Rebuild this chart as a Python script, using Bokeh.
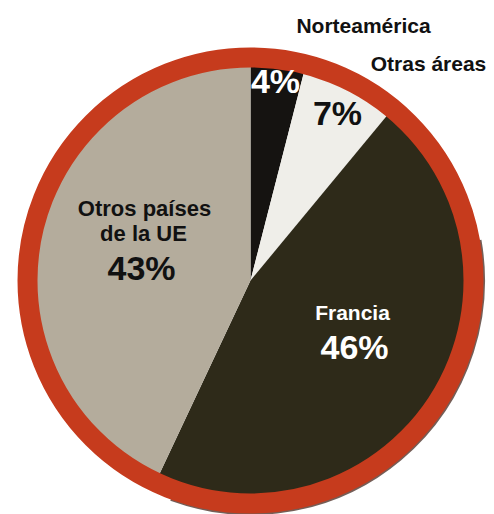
import math
from bokeh.plotting import figure
from bokeh.models import Range1d, ColumnDataSource
from bokeh.core.properties import value
from bokeh.embed import file_html
from bokeh.resources import INLINE

# Data
categories = ["Norteamérica", "Otras áreas", "Francia", "Otros países de la UE"]
shares = [4, 7, 46, 43]
colors = ["#151311", "#efeee9", "#2e2a19", "#b4ac9c"]

W, H = 494, 514
p = figure(width=W, height=H, output_backend="svg", toolbar_location=None,
           x_range=Range1d(0, W), y_range=Range1d(0, H),
           min_border=0)
p.axis.visible = False
p.grid.visible = False
p.outline_line_color = None
p.background_fill_color = "white"
p.border_fill_color = "white"

def X(x):
    return x
def Y(y):
    return H - y

cx, cy = X(250), Y(280)
R = 223

total = sum(shares)
starts, ends = [], []
acc = 0.0
for s in shares:
    a0 = math.radians(90 - 360 * acc / total)
    acc += s
    a1 = math.radians(90 - 360 * acc / total)
    starts.append(a0)
    ends.append(a1)

src = ColumnDataSource(dict(cat=categories, share=shares, color=colors,
                            start=starts, end=ends))
p.wedge(x=cx, y=cy, radius=R, start_angle="start", end_angle="end",
        direction="clock", fill_color="color", line_color=None, source=src)

p.arc(x=cx, y=cy, radius=R + 10, start_angle=math.radians(-110),
      end_angle=math.radians(10), line_color="#3a1a10", line_width=3,
      line_alpha=0.7)
p.circle(x=cx, y=cy, radius=R, fill_color=None, line_color="#c63b1d",
         line_width=20)

font = value("Liberation Sans")

def label(x, y, t, size, color):
    p.text(x=[X(x)], y=[Y(y)], text=[t], text_font=font, text_font_style="bold",
           text_font_size=f"{size}px", text_color=color, text_align="center",
           text_baseline="middle")

label(363, 25, categories[0], 21, "#111111")
label(428, 63, categories[1], 21, "#111111")
label(275, 80, f"{shares[0]}%", 34, "white")
label(337, 112, f"{shares[1]}%", 34, "#111111")
label(144, 208, "Otros países", 22, "#111111")
label(143, 233, "de la UE", 22, "#111111")
label(141, 267, f"{shares[3]}%", 34, "#111111")
label(352, 312, categories[2], 21, "white")
label(354, 346, f"{shares[2]}%", 34, "white")

open("out.html", "w").write(file_html(p, INLINE))
